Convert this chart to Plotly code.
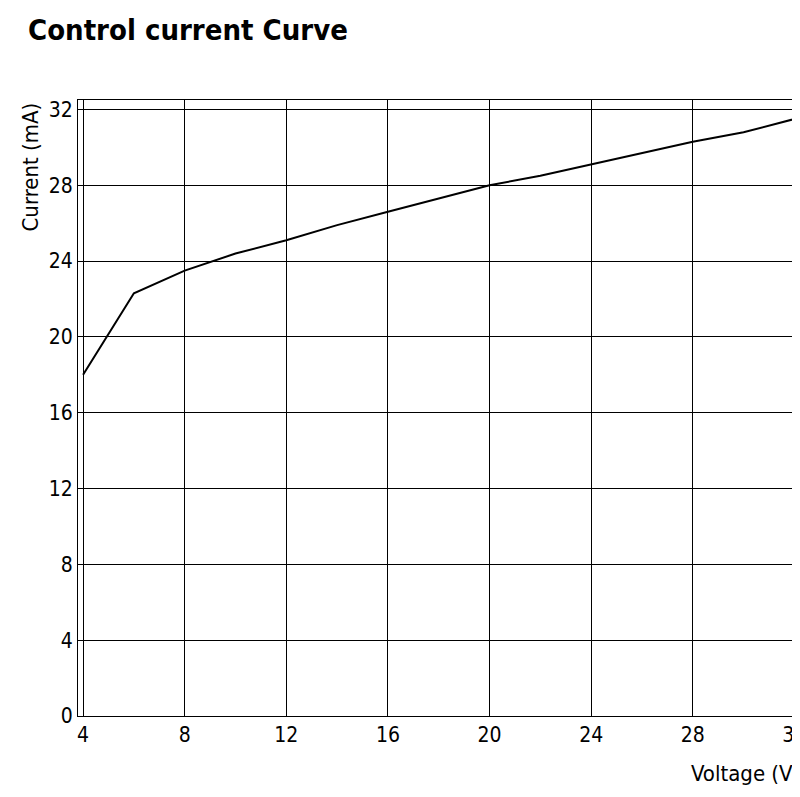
import plotly.graph_objects as go

voltage = [4, 6, 8, 10, 12, 14, 16, 18, 20, 22, 24, 26, 28, 30, 32.3]
current = [18, 22.3, 23.5, 24.4, 25.1, 25.9, 26.6, 27.3, 28, 28.5, 29.1, 29.7, 30.3, 30.8, 31.6]
xticks = [4, 8, 12, 16, 20, 24, 28, 32]
yticks = [0, 4, 8, 12, 16, 20, 24, 28, 32]

F = "DejaVu Sans Condensed, Liberation Sans Narrow, sans-serif"
fig = go.Figure(go.Scatter(x=voltage, y=current, mode="lines",
                           line=dict(color="black", width=2)))
fig.update_layout(
    width=800, height=797, plot_bgcolor="white", paper_bgcolor="white",
    margin=dict(l=70, r=6, t=92, b=89, autoexpand=False), showlegend=False,
    font=dict(family=F, size=21, color="black"),
    title=dict(text="<b>Control current Curve</b>", x=0.025, y=0.985, xanchor="left",
               yanchor="top", font=dict(size=29, family=F)),
    annotations=[
        dict(text="Voltage (V)", x=1, y=-0.07, xref="paper", yref="paper",
             xanchor="right", yanchor="top", showarrow=False, font=dict(size=22)),
        dict(text="Current (mA)", x=-0.085, y=1.0, xref="paper", yref="paper",
             xanchor="left", yanchor="top", textangle=-90, showarrow=False,
             font=dict(size=22)),
    ],
)
fig.update_xaxes(range=[3.8, 32.3], tickvals=xticks, showgrid=True, gridcolor="black",
                 gridwidth=1, showline=True, linecolor="black", mirror=True, ticks="",
                 automargin=False, zeroline=False)
fig.update_yaxes(range=[0, 32.5], tickvals=yticks, showgrid=True, gridcolor="black",
                 gridwidth=1, showline=True, linecolor="black", mirror=True, ticks="",
                 automargin=False, zeroline=False)
fig.write_html("out.html")
